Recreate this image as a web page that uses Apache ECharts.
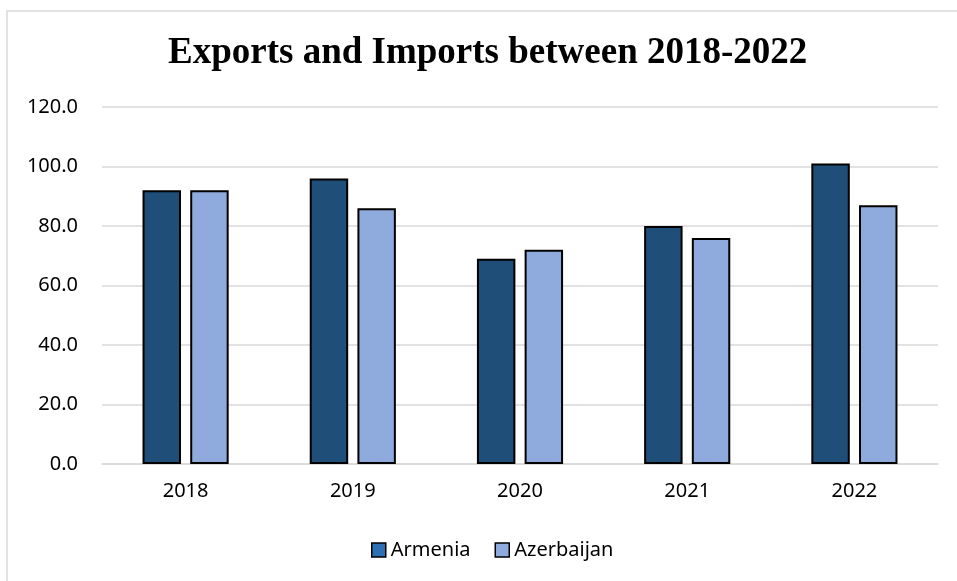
<!DOCTYPE html>
<html>
<head>
<meta charset="utf-8">
<script src="https://cdn.jsdelivr.net/npm/echarts@6/dist/echarts.min.js"></script>
<style>
  html, body { margin: 0; padding: 0; background: #ffffff; }
  #chart { width: 957px; height: 581px; }
</style>
</head>
<body>
<div id="chart"></div>
<script>
// Years on the category axis
const years = ['2018', '2019', '2020', '2021', '2022'];
// Yearly values per country
const armenia = [92, 96, 69, 80, 101];
const azerbaijan = [92, 86, 72, 76, 87];
// Value axis range
const yMin = 0;
const yMax = 120;
const yStep = 20;

const chart = echarts.init(document.getElementById('chart'), null, { renderer: 'canvas' });

const labelFont = '"Noto Sans", "Open Sans", sans-serif';

chart.setOption({
  backgroundColor: '#ffffff',
  animation: false,
  graphic: [{
    type: 'rect',
    shape: { x: 7, y: 11, width: 960, height: 580 },
    style: { fill: 'none', stroke: '#d9d9d9', lineWidth: 1.5 },
    silent: true
  }],
  title: {
    text: 'Exports and Imports between 2018-2022',
    left: 163,
    top: 30,
    textStyle: {
      fontFamily: '"Liberation Serif", "Times New Roman", serif',
      fontWeight: 'bold',
      fontSize: 37,
      color: '#000000'
    }
  },
  legend: {
    bottom: 16,
    left: 366,
    itemWidth: 14,
    itemHeight: 14,
    itemGap: 24,
    icon: 'rect',
    textStyle: { fontFamily: labelFont, fontSize: 20, color: '#000000', padding: [0, 0, 0, 0] },
    data: [
      { name: 'Armenia', itemStyle: { color: '#2E6EB3', borderColor: '#000', borderWidth: 1.5 } },
      { name: 'Azerbaijan', itemStyle: { color: '#8FAADC', borderColor: '#000', borderWidth: 1.5 } }
    ]
  },
  grid: { left: 102, right: 19, top: 107, bottom: 117, containLabel: false },
  xAxis: {
    type: 'category',
    data: years,
    axisLine: { show: true, lineStyle: { color: '#d9d9d9', width: 1.5 } },
    axisTick: { show: false },
    axisLabel: { fontFamily: labelFont, fontSize: 20, color: '#000000', margin: 17 }
  },
  yAxis: {
    type: 'value',
    min: yMin,
    max: yMax,
    interval: yStep,
    axisLine: { show: false },
    axisTick: { show: false },
    splitLine: { lineStyle: { color: '#d9d9d9', width: 1.5 } },
    axisLabel: {
      fontFamily: labelFont, fontSize: 20, color: '#000000', margin: 24,
      formatter: v => v.toFixed(1)
    }
  },
  series: [
    {
      name: 'Armenia',
      type: 'bar',
      data: armenia,
      barWidth: '23%',
      barGap: '24%',
      itemStyle: { color: '#1F4E79', borderColor: '#000000', borderWidth: 2 }
    },
    {
      name: 'Azerbaijan',
      type: 'bar',
      data: azerbaijan,
      barWidth: '23%',
      itemStyle: { color: '#8FAADC', borderColor: '#000000', borderWidth: 2 }
    }
  ]
});
</script>
</body>
</html>
